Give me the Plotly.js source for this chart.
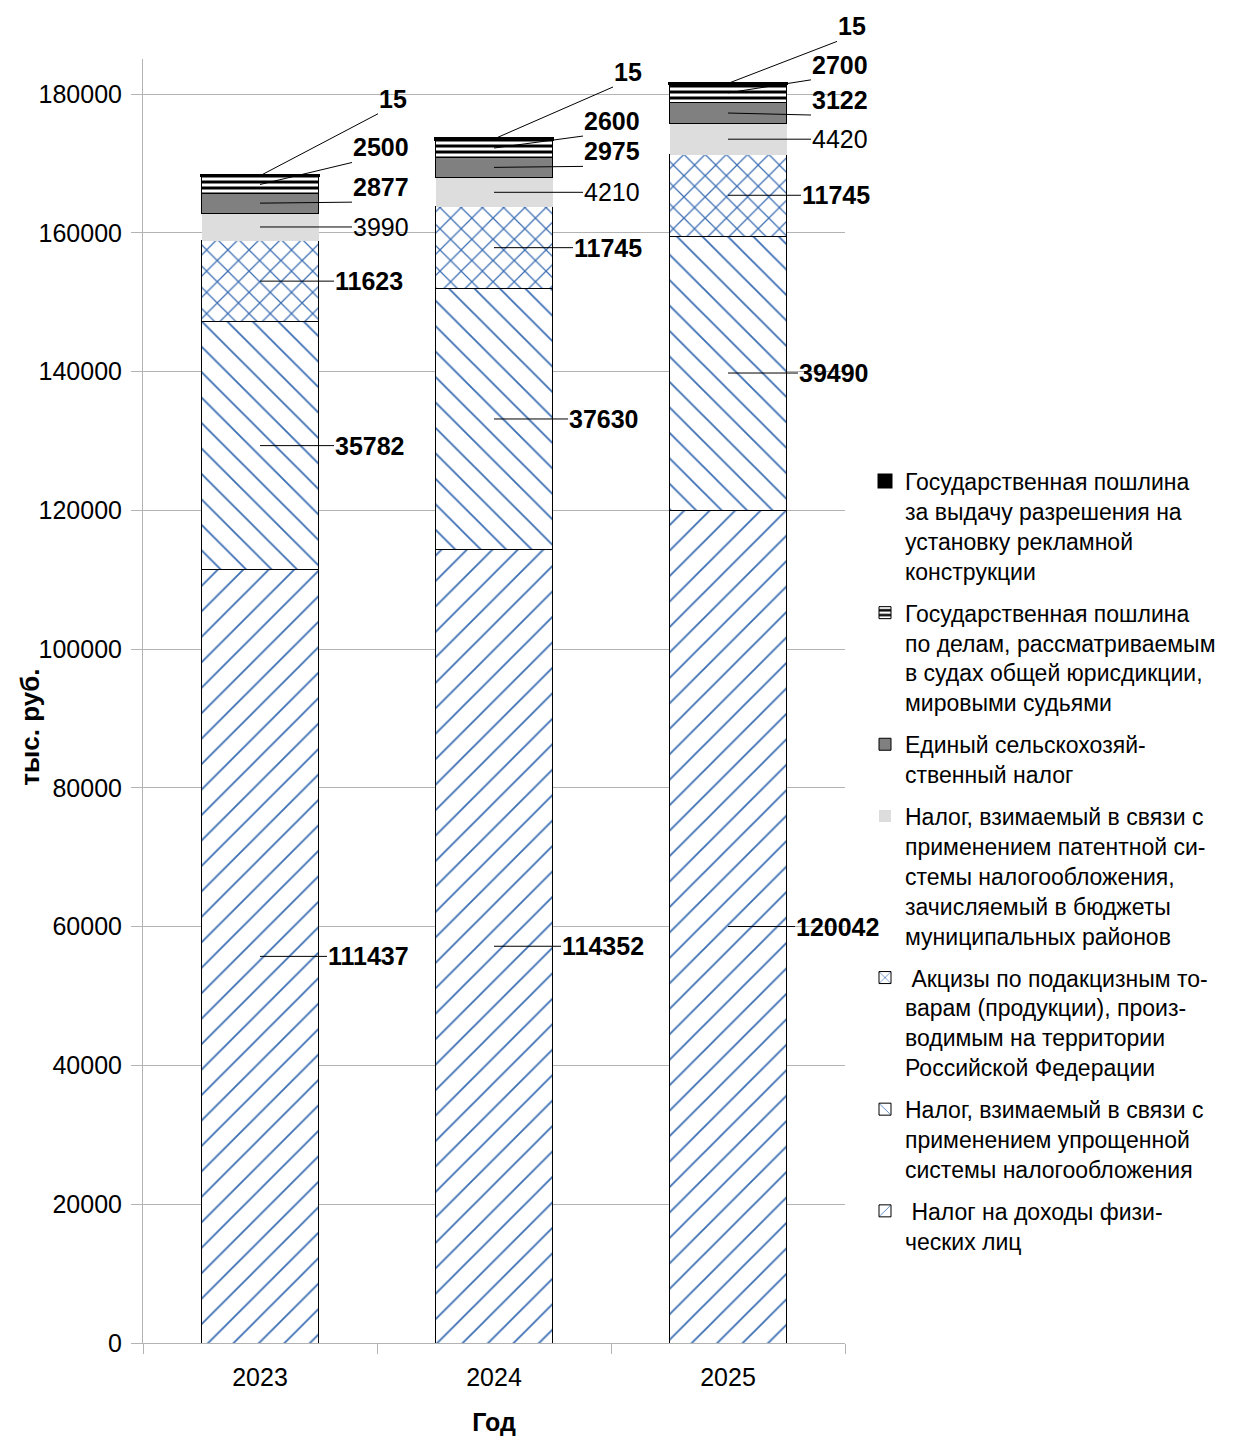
<!DOCTYPE html>
<html>
<head>
<meta charset="utf-8">
<script src="https://cdn.plot.ly/plotly-3.0.1.min.js"></script>
<style>html,body{margin:0;padding:0;background:#fff;}#chart{width:1234px;height:1437px;}</style>
</head>
<body>
<div id="chart"></div>
<script>
// ---- data ----
const years = ['2023', '2024', '2025'];
const ndfl      = [111437, 114352, 120042];
const usn       = [35782, 37630, 39490];
const akcizy    = [11623, 11745, 11745];
const patent    = [3990, 4210, 4420];
const eshn      = [2877, 2975, 3122];
const poshlSud  = [2500, 2600, 2700];
const poshlRekl = [15, 15, 15];

const seriesNames = [
  ' Налог на доходы физи-<br>ческих лиц',
  'Налог, взимаемый в связи с<br>применением упрощенной<br>системы налогообложения',
  ' Акцизы по подакцизным то-<br>варам (продукции), произ-<br>водимым на территории<br>Российской Федерации',
  'Налог, взимаемый в связи с<br>применением патентной си-<br>стемы налогообложения,<br>зачисляемый в бюджеты<br>муниципальных районов',
  'Единый сельскохозяй-<br>ственный налог',
  'Государственная пошлина<br>по делам, рассматриваемым<br>в судах общей юрисдикции,<br>мировыми судьями',
  'Государственная пошлина<br>за выдачу разрешения на<br>установку рекламной<br>конструкции'
];
const seriesValues = [ndfl, usn, akcizy, patent, eshn, poshlSud, poshlRekl];
const boldLabel = [true, true, true, false, true, true, true];
const yTicks = [0, 20000, 40000, 60000, 80000, 100000, 120000, 140000, 160000, 180000];

// ---- styles ----
const blue = '#3d6fb3';
const styles = [
  {color:'#ffffff', pattern:{shape:'/', fgcolor:blue, bgcolor:'#ffffff', size:18, solidity:0.1}, lw:1},
  {color:'#ffffff', pattern:{shape:'\\', fgcolor:blue, bgcolor:'#ffffff', size:18, solidity:0.1}, lw:1},
  {color:'#ffffff', pattern:{shape:'x', fgcolor:blue, bgcolor:'#ffffff', size:15, solidity:0.16}, lw:1},
  {color:'#dddddd', pattern:null, lw:0},
  {color:'#808080', pattern:null, lw:1},
  {color:'#ffffff', pattern:{shape:'-', fgcolor:'#000000', bgcolor:'#ffffff', size:6, solidity:0.5}, lw:1},
  {color:'#000000', pattern:null, lw:3}
];

// label placement: [dx to text left (px), dy of line end (px), anchor] per series per year
const labelPlace = [
  [[67,0,'middle'],[67,0,'middle'],[67,0,'middle']],
  [[74,0,'middle'],[74,0,'middle'],[70,0,'middle']],
  [[74,0,'middle'],[79,0,'middle'],[73,0,'middle']],
  [[92,0,'middle'],[89,0,'middle'],[83,0,'middle']],
  [[92,-1,'bottom'],[89,-1,'bottom'],[83,2,'bottom']],
  [[92,-22,'bottom'],[89,-12,'bottom'],[83,-13,'bottom']],
  [[118,-62,'bottom'],[119,-52,'bottom'],[109,-42,'bottom']]
];

const FONT = 'Liberation Sans, Arial, sans-serif';

const traces = seriesValues.map((vals, i) => {
  const m = {color: styles[i].color, line:{color:'#000000', width:styles[i].lw}};
  if (styles[i].pattern) m.pattern = styles[i].pattern;
  return {
    type:'bar', x:years, y:vals, name:seriesNames[i], marker:m,
    width:0.5, legendgroup:'g'+i, legendrank: 100 - i, hoverinfo:'skip'
  };
});

const annotations = [];
years.forEach((yr, j) => {
  let base = 0;
  seriesValues.forEach((vals, i) => {
    const v = vals[j];
    const mid = base + v/2;
    base += v;
    const p = labelPlace[i][j];
    annotations.push({
      x: j, y: mid, xref:'x', yref:'y',
      text: String(v), showarrow:true, arrowhead:0, arrowwidth:1, arrowcolor:'#000000',
      ax: p[0], ay: p[1], standoff:0, startstandoff:0,
      xanchor:'left', yanchor:p[2], borderpad:0,
      font:{family:FONT, size:25, color:'#000000', weight: boldLabel[i] ? 'bold' : 'normal'}
    });
  });
});
// y axis title as annotation
annotations.push({
  xref:'paper', yref:'paper', x:-0.161, y:0.48, xanchor:'center', yanchor:'middle',
  text:'тыс. руб.', textangle:-90, showarrow:false,
  font:{family:FONT, size:26, weight:'bold', color:'#000000'}
});

const layout = {
  width:1234, height:1437,
  margin:{l:143, r:389, t:59, b:94},
  paper_bgcolor:'#ffffff', plot_bgcolor:'#ffffff',
  barmode:'stack',
  font:{family:FONT, size:25, color:'#000000'},
  showlegend:true,
  legend:{
    x:1.0285, xanchor:'left', y:0.688, yanchor:'top',
    traceorder:'grouped', tracegroupgap:9, valign:'top',
    font:{family:FONT, size:23, color:'#000000'},
    itemwidth:30, bgcolor:'rgba(0,0,0,0)'
  },
  xaxis:{
    type:'category', range:[-0.5, 2.5], showgrid:false, showline:true, linecolor:'#b3b3b3', linewidth:1,
    ticks:'outside', tickson:'boundaries', ticklen:10, tickcolor:'#b3b3b3',
    tickfont:{family:FONT, size:25}, ticklabelstandoff:12, tickangle:0,
    title:{text:'Год', font:{family:FONT, size:25, weight:'bold'}, standoff:23},
    fixedrange:true
  },
  yaxis:{
    range:[0, 185044], tickvals:yTicks, ticktext:yTicks.map(String),
    showgrid:true, gridcolor:'#b3b3b3', gridwidth:1, zeroline:false,
    showline:true, linecolor:'#b3b3b3', linewidth:1,
    ticks:'outside', ticklen:11, tickcolor:'#b3b3b3',
    tickfont:{family:FONT, size:25}, ticklabelstandoff:4,
    fixedrange:true
  },
  annotations: annotations
};

Plotly.newPlot('chart', traces, layout, {displayModeBar:false, staticPlot:true});
</script>
</body>
</html>
